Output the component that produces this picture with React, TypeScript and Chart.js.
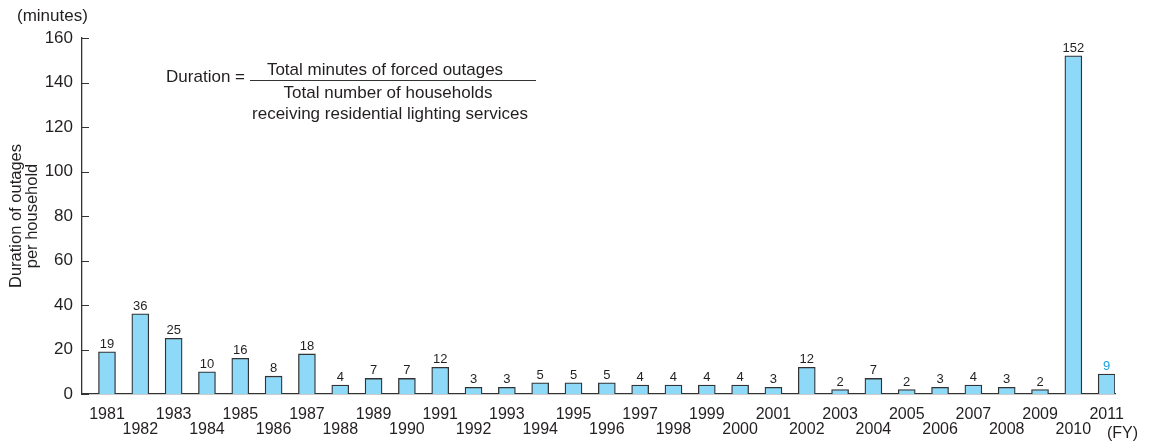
import React, { useEffect, useRef } from "react";
import { Chart, registerables } from "chart.js";

Chart.register(...registerables);

const years = ["1981","1982","1983","1984","1985","1986","1987","1988","1989","1990","1991","1992","1993","1994","1995","1996","1997","1998","1999","2000","2001","2002","2003","2004","2005","2006","2007","2008","2009","2010","2011"];
const durations = [19,36,25,10,16,8,18,4,7,7,12,3,3,5,5,5,4,4,4,4,3,12,2,7,2,3,4,3,2,152,9];
const yTicks = [0,20,40,60,80,100,120,140,160];

const FONT = "'Liberation Sans', Arial, Helvetica, sans-serif";
const TEXT = "#231f20";
const BAR_FILL = "#8ed8f8";
const BAR_EDGE = "#333333";
const HIGHLIGHT = "#1ea0dc";

const overlay = {
  id: "overlay",
  afterDraw(chart: any) {
    const ctx = chart.ctx;
    const ys = chart.scales.y;
    const xs = chart.scales.x;
    ctx.save();
    // inward y ticks
    ctx.strokeStyle = BAR_EDGE;
    ctx.lineWidth = 1;
    yTicks.forEach((t) => {
      const py = Math.round(ys.getPixelForValue(t)) + 0.5;
      ctx.beginPath();
      ctx.moveTo(xs.left, py);
      ctx.lineTo(xs.left + 7, py);
      ctx.stroke();
    });
    // value labels
    const meta = chart.getDatasetMeta(0);
    ctx.font = `13px ${FONT}`;
    ctx.textAlign = "center";
    ctx.textBaseline = "alphabetic";
    meta.data.forEach((el: any, i: number) => {
      ctx.fillStyle = i === durations.length - 1 ? HIGHLIGHT : TEXT;
      ctx.fillText(String(durations[i]), el.x, el.y - 4);
    });
    // (minutes) and (FY)
    ctx.fillStyle = TEXT;
    ctx.textBaseline = "middle";
    ctx.textAlign = "left";
    ctx.font = `17px ${FONT}`;
    ctx.fillText("(minutes)", 17, 16);
    ctx.font = `16px ${FONT}`;
    ctx.fillText("(FY)", 1107, 434);
    // formula
    ctx.font = `17px ${FONT}`;
    ctx.textAlign = "right";
    ctx.fillText("Duration =", 245, 77);
    ctx.textAlign = "center";
    ctx.fillText("Total minutes of forced outages", 385, 70);
    ctx.fillText("Total number of households", 388, 93);
    ctx.fillText("receiving residential lighting services", 390, 114);
    ctx.beginPath();
    ctx.moveTo(250, 80.5);
    ctx.lineTo(536, 80.5);
    ctx.stroke();
    ctx.restore();
  },
};

export default function App() {
  const ref = useRef<HTMLCanvasElement | null>(null);
  useEffect(() => {
    document.body.style.margin = "0";
    const canvas = ref.current!;
    const chart = new Chart(canvas, {
      type: "bar",
      data: {
        datasets: [
          {
            data: durations.map((v, i) => ({ x: i, y: v })),
            backgroundColor: BAR_FILL,
            borderColor: BAR_EDGE,
            borderWidth: 1.3,
            borderSkipped: "bottom",
            barThickness: 17,
          },
        ],
      },
      options: {
        animation: false,
        responsive: false,
        maintainAspectRatio: false,
        layout: { padding: { top: 38, right: 36, left: 0, bottom: 0 } },
        plugins: { legend: { display: false }, tooltip: { enabled: false } },
        scales: {
          x: {
            type: "linear",
            bounds: "data",
            offset: false,
            min: -0.75,
            max: 30.25,
            grid: { display: false, drawTicks: false, offset: false },
            border: { display: true, color: BAR_EDGE, width: 1.3 },
            afterFit: (s: any) => { s.height = 50; },
            afterBuildTicks: (s: any) => { s.ticks = years.map((_, i) => ({ value: i })); },
            ticks: {
              autoSkip: false,
              maxRotation: 0,
              minRotation: 0,
              padding: 13.5,
              color: TEXT,
              font: { family: FONT, size: 16, lineHeight: 0.9375 },
              callback: (v: any) => {
                const i = Math.round(Number(v));
                if (i < 0 || i >= years.length) return "";
                return i % 2 === 0 ? [years[i]] : ["", years[i]];
              },
            },
          },
          y: {
            min: 0,
            max: 160,
            afterFit: (s: any) => { s.width = 82; },
            grid: { display: false, drawTicks: false },
            border: { display: true, color: BAR_EDGE, width: 1.3 },
            afterBuildTicks: (s: any) => { s.ticks = yTicks.map((v) => ({ value: v })); },
            ticks: {
              padding: 9,
              color: TEXT,
              font: { family: FONT, size: 17 },
            },
            title: {
              display: true,
              text: ["Duration of outages", "per household"],
              color: TEXT,
              font: { family: FONT, size: 16.5, lineHeight: 1.0 },
              padding: { top: 8, bottom: 0 },
            },
          },
        },
      },
      plugins: [overlay],
    } as any);
    return () => chart.destroy();
  }, []);
  return (
    <div style={{ width: 1151, height: 444 }}>
      <canvas ref={ref} width={1151} height={444} style={{ display: "block" }} />
    </div>
  );
}
